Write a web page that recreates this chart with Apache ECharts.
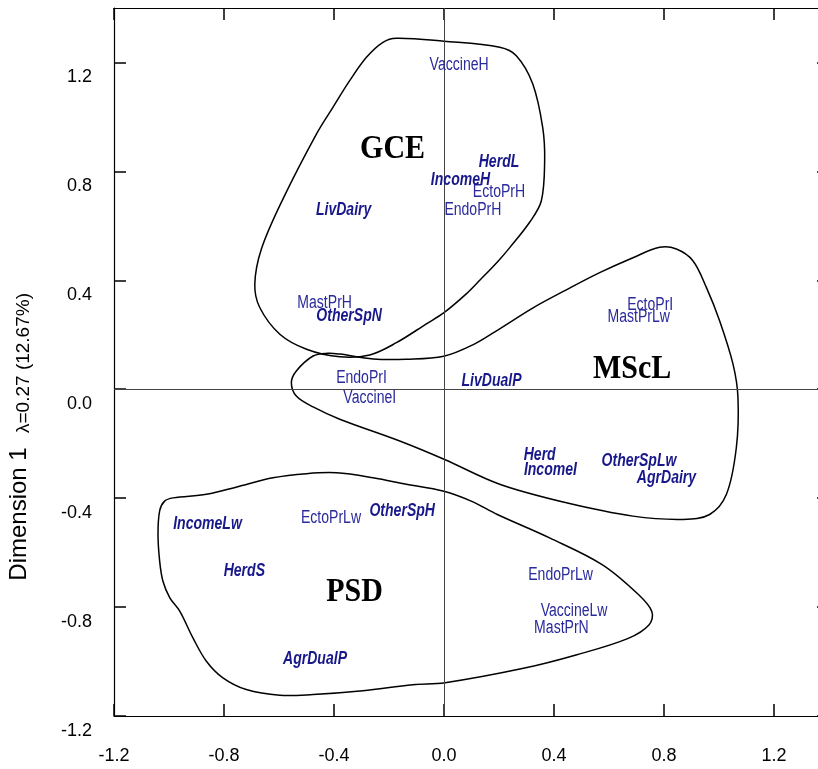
<!DOCTYPE html>
<html>
<head>
<meta charset="utf-8">
<script src="https://cdn.jsdelivr.net/npm/echarts@6/dist/echarts.min.js"></script>
<style>html,body{margin:0;padding:0;background:#fff;}#c{width:818px;height:769px;}</style>
</head>
<body>
<div id="c"></div>
<script>
// ---- tick values / labels ----
const xTickValues = [-1.2, -0.8, -0.4, 0, 0.4, 0.8, 1.2];
const xTickLabels = ['-1.2', '-0.8', '-0.4', '0.0', '0.4', '0.8', '1.2'];
const yTickValues = [-1.2, -0.8, -0.4, 0, 0.4, 0.8, 1.2];
const yTickLabels = ['-1.2', '-0.8', '-0.4', '0.0', '0.4', '0.8', '1.2'];

// ---- practice categories (regular labels) ----
const practiceNames = ['VaccineH', 'EctoPrH', 'EndoPrH', 'MastPrH', 'EndoPrI', 'VaccineI', 'EctoPrI', 'MastPrLw', 'EctoPrLw', 'EndoPrLw', 'VaccineLw', 'MastPrN'];
const practiceX = [0.055, 0.20, 0.105, -0.434, -0.30, -0.27, 0.75, 0.708, -0.411, 0.424, 0.473, 0.427];
const practiceY = [1.19, 0.726, 0.658, 0.317, 0.040, -0.032, 0.311, 0.265, -0.473, -0.681, -0.815, -0.877];

// ---- farm profile categories (bold italic labels) ----
const profileNames = ['HerdL', 'IncomeH', 'LivDairy', 'OtherSpN', 'LivDualP', 'Herd', 'IncomeI', 'OtherSpLw', 'AgrDairy', 'OtherSpH', 'IncomeLw', 'HerdS', 'AgrDualP'];
const profileX = [0.20, 0.06, -0.365, -0.345, 0.173, 0.348, 0.387, 0.709, 0.809, -0.152, -0.860, -0.726, -0.469];
const profileY = [0.833, 0.768, 0.658, 0.268, 0.029, -0.242, -0.297, -0.265, -0.327, -0.447, -0.496, -0.667, -0.99];

// ---- group names ----
const groupNames = ['GCE', 'MScL', 'PSD'];
const groupX = [-0.187, 0.684, -0.325];
const groupY = [0.883, 0.072, -0.745];

// ---- group contours ----
const gceContour = [[-0.173,1.289],[0,1.278],[0.2025,1.256],[0.263,1.225],[0.3225,1.122],[0.359,0.961],[0.366,0.839],[0.354,0.692],[0.312,0.614],[0.239,0.520],[0.20,0.474],[0.130,0.400],[0.081,0.350],[0,0.281],[-0.064,0.240],[-0.173,0.171],[-0.270,0.126],[-0.379,0.119],[-0.500,0.147],[-0.597,0.202],[-0.670,0.300],[-0.688,0.386],[-0.664,0.515],[-0.585,0.70],[-0.464,0.937],[-0.404,1.035],[-0.343,1.133],[-0.282,1.219],[-0.222,1.274]];
const msclContour = [[-0.555,0.024],[-0.537,0.067],[-0.476,0.122],[-0.422,0.132],[-0.379,0.129],[-0.258,0.111],[-0.137,0.110],[-0.001,0.121],[0.105,0.163],[0.2025,0.222],[0.324,0.299],[0.445,0.365],[0.566,0.428],[0.687,0.483],[0.784,0.521],[0.845,0.515],[0.905,0.472],[0.954,0.374],[1.0025,0.251],[1.051,0.092],[1.069,-0.031],[1.063,-0.215],[1.027,-0.386],[0.966,-0.460],[0.869,-0.478],[0.687,-0.466],[0.445,-0.417],[0.2025,-0.349],[0,-0.257],[-0.161,-0.190],[-0.379,-0.110],[-0.476,-0.065],[-0.537,-0.025]];
const psdContour = [[-1.016,-0.411],[-0.985,-0.399],[-0.864,-0.386],[-0.743,-0.356],[-0.622,-0.325],[-0.500,-0.310],[-0.391,-0.307],[-0.258,-0.325],[-0.137,-0.349],[-0.004,-0.374],[0.099,-0.411],[0.194,-0.460],[0.384,-0.546],[0.575,-0.644],[0.708,-0.755],[0.756,-0.817],[0.746,-0.865],[0.670,-0.915],[0.480,-0.976],[0.289,-1.025],[0.004,-1.078],[-0.113,-1.085],[-0.295,-1.107],[-0.476,-1.121],[-0.597,-1.124],[-0.719,-1.103],[-0.804,-1.060],[-0.864,-0.999],[-0.913,-0.913],[-0.961,-0.815],[-0.997,-0.766],[-1.022,-0.705],[-1.034,-0.631],[-1.040,-0.533],[-1.034,-0.447]];

const contours = [gceContour, msclContour, psdContour];

function pickLabel(values, labels) {
  return function (v) {
    const i = values.findIndex(t => Math.abs(t - v) < 1e-9);
    return i >= 0 ? labels[i] : '';
  };
}

const chart = echarts.init(document.getElementById('c'), null, { renderer: 'canvas' });

const tickStyle = { show: true, inside: true, length: 12, lineStyle: { color: '#000', width: 1.5 } };
const axisLineStyle = { show: true, onZero: false, lineStyle: { color: '#000', width: 1.2 } };

function labelSeries(names, xs, ys, opts) {
  return {
    type: 'custom',
    xAxisIndex: 0, yAxisIndex: 0,
    silent: true,
    z: 5,
    encode: { x: 0, y: 1 },
    data: xs.map((x, i) => [x, ys[i]]),
    renderItem: function (params, api) {
      const p = api.coord([api.value(0), api.value(1)]);
      return {
        type: 'text',
        x: p[0], y: p[1],
        scaleX: opts.scaleX, scaleY: opts.scaleY,
        style: {
          text: names[params.dataIndex],
          fontFamily: opts.fontFamily,
          fontSize: opts.fontSize,
          fontStyle: opts.fontStyle,
          fontWeight: opts.fontWeight,
          fill: opts.color,
          align: 'center',
          verticalAlign: 'middle'
        }
      };
    }
  };
}

const option = {
  animation: false,
  backgroundColor: '#fff',
  grid: { left: 114, top: 8, width: 715, height: 708, containLabel: false, outerBoundsMode: 'none' },
  xAxis: [
    {
      type: 'value', position: 'bottom', min: -1.2, max: 1.4,
      axisLine: axisLineStyle,
      axisTick: Object.assign({ customValues: xTickValues }, tickStyle),
      axisLabel: {
        customValues: xTickValues,
        formatter: pickLabel(xTickValues, xTickLabels),
        margin: 31, color: '#000', fontSize: 18, fontFamily: '"Liberation Sans", Arial, sans-serif'
      },
      splitLine: { show: false }
    },
    {
      type: 'value', position: 'top', min: -1.2, max: 1.4,
      axisLine: axisLineStyle,
      axisTick: Object.assign({ customValues: xTickValues }, tickStyle),
      axisLabel: { show: false },
      splitLine: { show: false }
    }
  ],
  yAxis: [
    {
      type: 'value', position: 'left', min: -1.2, max: 1.4,
      axisLine: axisLineStyle,
      axisTick: Object.assign({ customValues: yTickValues }, tickStyle),
      axisLabel: {
        customValues: yTickValues,
        formatter: pickLabel(yTickValues, yTickLabels),
        margin: 22, color: '#000', fontSize: 18, fontFamily: '"Liberation Sans", Arial, sans-serif',
        verticalAlign: 'top', padding: [6, 0, 0, 0]
      },
      splitLine: { show: false }
    },
    {
      type: 'value', position: 'right', min: -1.2, max: 1.4,
      axisLine: axisLineStyle,
      axisTick: Object.assign({ customValues: yTickValues }, tickStyle),
      axisLabel: { show: false },
      splitLine: { show: false }
    }
  ],
  graphic: [
    {
      type: 'text', x: 19, y: 514, rotation: Math.PI / 2,
      style: { text: 'Dimension 1', fontFamily: '"Liberation Sans", Arial, sans-serif', fontSize: 24, fill: '#000', align: 'center', verticalAlign: 'middle' }
    },
    {
      type: 'text', x: 24, y: 363, rotation: Math.PI / 2,
      style: { text: 'λ=0.27 (12.67%)', fontFamily: '"Liberation Sans", Arial, sans-serif', fontSize: 19, fill: '#000', align: 'center', verticalAlign: 'middle' }
    }
  ],
  series: [
    {
      type: 'custom',
      xAxisIndex: 0, yAxisIndex: 0,
      silent: true,
      z: 3,
      data: contours.map((c, i) => [i]),
      renderItem: function (params, api) {
        const pts = contours[params.dataIndex].map(p => api.coord(p));
        return {
          type: 'polygon',
          shape: { points: pts, smooth: 0.35 },
          style: { fill: 'none', stroke: '#000', lineWidth: 1.5 }
        };
      },
      markLine: {
        silent: true,
        symbol: 'none',
        label: { show: false },
        lineStyle: { color: '#444', width: 1, type: 'solid' },
        data: [{ xAxis: 0 }, { yAxis: 0 }]
      }
    },
    labelSeries(practiceNames, practiceX, practiceY, {
      fontFamily: '"Liberation Sans", Arial, sans-serif', fontSize: 18, fontStyle: 'normal', fontWeight: 'normal',
      color: '#2a2a9c', scaleX: 0.78, scaleY: 1
    }),
    labelSeries(profileNames, profileX, profileY, {
      fontFamily: '"Liberation Sans", Arial, sans-serif', fontSize: 18, fontStyle: 'italic', fontWeight: 'bold',
      color: '#18188a', scaleX: 0.78, scaleY: 1
    }),
    labelSeries(groupNames, groupX, groupY, {
      fontFamily: '"Liberation Serif", "Times New Roman", serif', fontSize: 30, fontStyle: 'normal', fontWeight: 'bold',
      color: '#000', scaleX: 1, scaleY: 1.13
    })
  ]
};

chart.setOption(option);
</script>
</body>
</html>
